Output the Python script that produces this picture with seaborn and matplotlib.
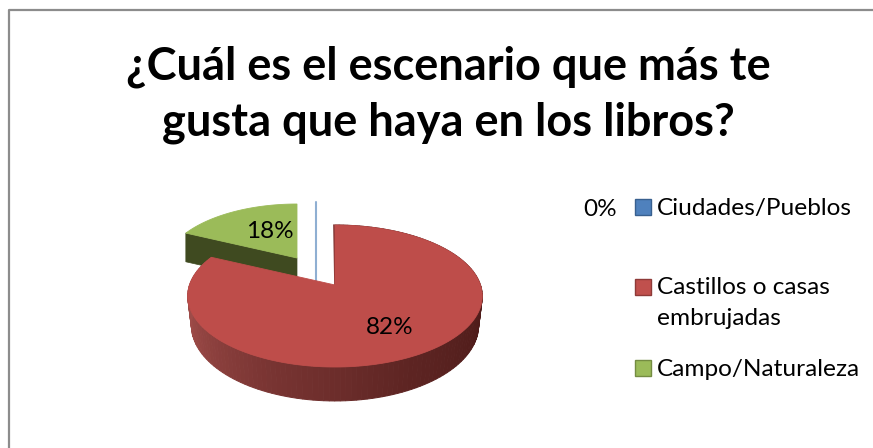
#!/usr/bin/env python
"""Pie 3D con porcentajes de escenarios favoritos."""
import numpy as np
import seaborn as sns
import matplotlib.pyplot as plt
from matplotlib.patches import Rectangle

categories = ["Ciudades/Pueblos", "Castillos o casas\nembrujadas", "Campo/Naturaleza"]
values = [0, 82, 18]
value_labels = ["0%", "82%", "18%"]
title = "¿Cuál es el escenario que más te\ngusta que haya en los libros?"

top_colors = ["#8FAFD2", "#BE4D4A", "#9BBB59"]
swatch_colors = ["#4F81BD", "#C0504D", "#9BBB59"]
swatch_edges = ["#38608F", "#8E3A38", "#748C42"]

sns.set_theme(style="white")
plt.rcParams["font.family"] = ["Lato", "DejaVu Sans"]

# perspective of the pie, in pixels of the 873x448 picture
RX, RY, PERSP = 145.5, 69.3, 0.155
DEPTH = 28.7
BOTTOM_X = 0.975
# slice apex and scale after the "explode"
apex = [(316, 256, 0.9), (335, 285, 1.0), (297, 258, 0.9)]


def project(phi, cx, cy, s, drop=0.0, xs=1.0):
    """phi is clockwise from 12 o'clock, in radians."""
    u, v = np.sin(phi), np.cos(phi)
    w = 1 + PERSP * v
    return cx + s * xs * RX * u / w, cy - s * RY * v / w + s * drop / w


def sector(ax, start, end, ap, color, zorder):
    phi = np.radians(np.linspace(start, end, 200))
    x, y = project(phi, *ap)
    ax.fill(np.r_[ap[0], x], np.r_[ap[1], y], color=color, lw=0.6, zorder=zorder)


def outer_wall(ax, start, end, ap, cmap, zorder):
    edges = np.linspace(start, end, 160)
    for a, b in zip(edges[:-1], edges[1:]):
        phi = np.radians([a, b])
        x1, y1 = project(phi, *ap)
        x2, y2 = project(phi, *ap, drop=DEPTH, xs=BOTTOM_X)
        col = cmap(((a + b) / 2 - 60) / 240)
        ax.fill([x1[0], x1[1], x2[1], x2[0]], [y1[0], y1[1], y2[1], y2[0]],
                color=col, lw=0.7, zorder=zorder)


fig = plt.figure(figsize=(8.73, 4.48), dpi=100)
ax = fig.add_axes([0, 0, 1, 1])
ax.set_xlim(0, 873)
ax.set_ylim(448, 0)
ax.axis("off")

# chart frame, only top and left survive the crop
ax.plot([8.5, 8.5, 873], [448, 10.5, 10.5], color="#8C8C8C", lw=1.6, zorder=1)

ax.text(448, 95, title, ha="center", va="center", fontsize=32.5, fontweight="bold",
        color="black", linespacing=1.39)

shares = np.array(values) / sum(values) * 360
ends = np.cumsum(shares)
starts = ends - shares

# zero slice is only a line
blue_x, blue_y = project(np.radians(starts[0]), *apex[0])
ax.plot([blue_x, blue_x], [blue_y, apex[0][1] + DEPTH], color=top_colors[0], lw=1.5, zorder=2)

# green slice
gx, gy = project(np.radians(starts[2]), *apex[2])
ax.fill([gx, apex[2][0], apex[2][0], gx],
        [gy, apex[2][1], apex[2][1] + DEPTH, gy + DEPTH],
        color="#3F4A20", lw=0.5, zorder=3)
sector(ax, starts[2], ends[2], apex[2], top_colors[2], 4)

# red slice with shaded wall
wall = sns.blend_palette(["#4F1F1D", "#4F1C1A", "#5E2523", "#7A3533", "#9C4A47", "#A44F4C"], as_cmap=True)
outer_wall(ax, starts[1], ends[1], apex[1], wall, 5)
ax.plot([apex[1][0] - 1, apex[1][0]], [apex[1][1] - 60, apex[1][1]], color="#7A2F2D", lw=1.2, zorder=6)
sector(ax, starts[1], ends[1], apex[1], top_colors[1], 7)

# data labels
label_pos = [(600, 210), (390, 328), (270, 231)]
for text, (lx, ly) in zip(value_labels, label_pos):
    ax.text(lx, ly, text, ha="center", va="center", fontsize=17.5, color="black", zorder=8)

# legend
legend_y = [207, 287.5, 368]
text_y = [208, 303, 369]
for name, ly, ty, col, edge in zip(categories, legend_y, text_y, swatch_colors, swatch_edges):
    ax.add_patch(Rectangle((634.5, ly - 8), 16, 16, facecolor=col, edgecolor=edge, lw=1.0, zorder=8))
    ax.text(657, ty, name, ha="left", va="center", fontsize=17.6, color="black",
            linespacing=1.63, zorder=8)

fig.savefig("out.png", dpi=100)
